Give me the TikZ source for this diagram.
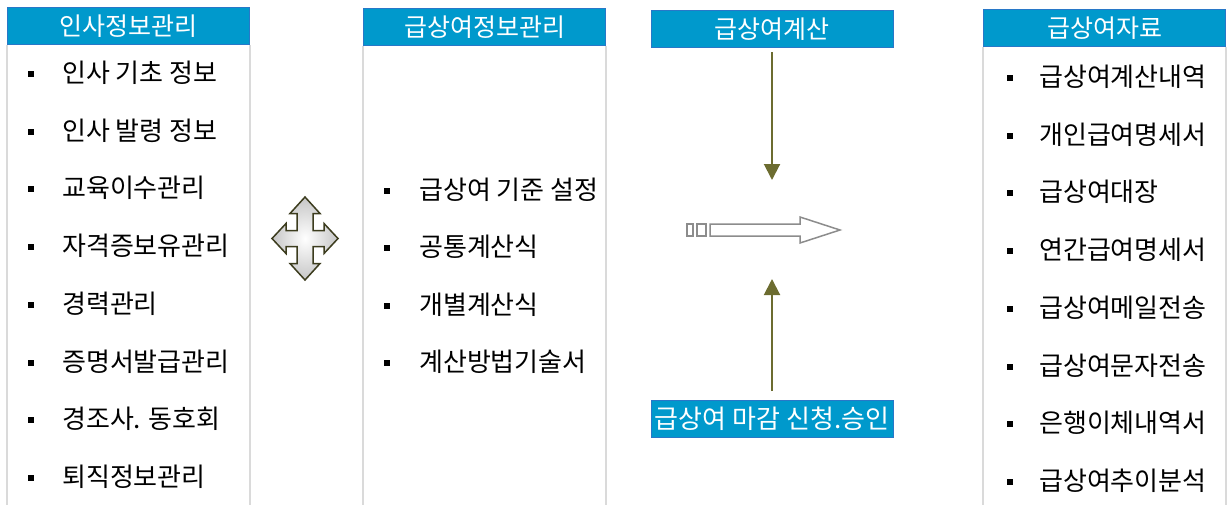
\documentclass[tikz,border=0pt]{standalone}
\usepackage{fontspec}
\setmainfont{Noto Sans CJK KR}
\usetikzlibrary{arrows.meta}
\definecolor{hdrblue}{RGB}{0,153,204}
\definecolor{hdredge}{RGB}{40,120,200}
\definecolor{boxgray}{RGB}{218,218,218}
\definecolor{olive}{RGB}{108,108,48}
\definecolor{quadedge}{RGB}{60,60,30}
\definecolor{arrgray}{RGB}{140,140,140}
\tikzset{
  hdr/.style={draw=hdredge, line width=1pt, fill=hdrblue, text=white,
    minimum width=242pt, minimum height=37pt, inner sep=0pt,
    font=\fontsize{25}{28}\selectfont},
  colbox/.style={draw=boxgray, line width=1.5pt},
  bul/.style={fill=black, minimum size=6pt, inner sep=0pt},
  itm/.style={anchor=west, inner sep=0pt, text height=21pt, text depth=2pt,
    font=\fontsize{26}{30}\selectfont},
  flow/.style={draw=olive, line width=2pt, -{Triangle[width=16pt,length=16pt]}},
  quad/.style={draw=quadedge, line width=1.5pt, inner color=white, outer color=gray!45},
  hollow/.style={draw=arrgray, line width=1.5pt, fill=white}
}
\begin{document}
\begin{tikzpicture}[x=1pt,y=-1pt]
\useasboundingbox (0,0) rectangle (1231,504);
% column frames
\draw[colbox] (7,45) -- (7,510);
\draw[colbox] (250,45) -- (250,510);
\draw[colbox] (363,46) -- (363,510);
\draw[colbox] (606,46) -- (606,510);
\draw[colbox] (983,47) -- (983,510);
\draw[colbox] (1226,47) -- (1226,510);
% headers
\node[hdr] (h1) at (128.5,26) {인사정보관리};
\node[hdr] (h2) at (484.5,27) {급상여정보관리};
\node[hdr] (h3) at (772,29) {급상여계산};
\node[hdr, font=\fontsize{26}{29}\selectfont] (close) at (772,418.5) {급상여 마감 신청.승인};
\node[hdr] (h4) at (1104.5,28) {급상여자료};
% column 1 items
\foreach \t [count=\i from 0] in {인사 기초 정보,인사 발령 정보,교육이수관리,자격증보유관리,경력관리,증명서발급관리,경조사. 동호회,퇴직정보관리}{
  \node[bul] (b1-\i) at (31,{74+57.7*\i}) {};
  \node[itm] (a1-\i) at (62,{73+57.7*\i}) {\t};
}
% column 2 items
\foreach \t [count=\i from 0] in {급상여 기준 설정,공통계산식,개별계산식,계산방법기술서}{
  \node[bul] (b2-\i) at (387,{191+57.4*\i}) {};
  \node[itm] (a2-\i) at (419,{190+57.4*\i}) {\t};
}
% column 4 items
\foreach \t [count=\i from 0] in {급상여계산내역,개인급여명세서,급상여대장,연간급여명세서,급상여메일전송,급상여문자전송,은행이체내역서,급상여추이분석}{
  \node[bul] (b4-\i) at (1010,{78+57.7*\i}) {};
  \node[itm] (a4-\i) at (1039,{77+57.7*\i}) {\t};
}
% four-way arrow
\begin{scope}[shift={(305,238.5)}]
\path[quad] (0,-41.5) -- (15,-25) -- (8,-25) -- (8,-8) -- (19,-8) -- (19,-15) -- (33,0)
  -- (19,15) -- (19,8) -- (8,8) -- (8,25) -- (15,25) -- (0,41.5) -- (-15,25) -- (-8,25)
  -- (-8,8) -- (-19,8) -- (-19,15) -- (-33,0) -- (-19,-15) -- (-19,-8) -- (-8,-8)
  -- (-8,-25) -- (-15,-25) -- cycle;
\end{scope}
% striped hollow arrow
\draw[hollow] (687,224) rectangle (693,236);
\draw[hollow] (697,224) rectangle (706,236);
\draw[hollow] (710,224) -- (800,224) -- (800,217) -- (840,230) -- (800,243) -- (800,236) -- (710,236) -- cycle;
% vertical flows
\coordinate (dtop) at (772,52);
\coordinate (dend) at (772,180);
\coordinate (ubot) at (772,391);
\coordinate (uend) at (772,279);
\draw[flow] (dtop) -- (dend);
\draw[flow] (ubot) -- (uend);
\end{tikzpicture}
\end{document}
